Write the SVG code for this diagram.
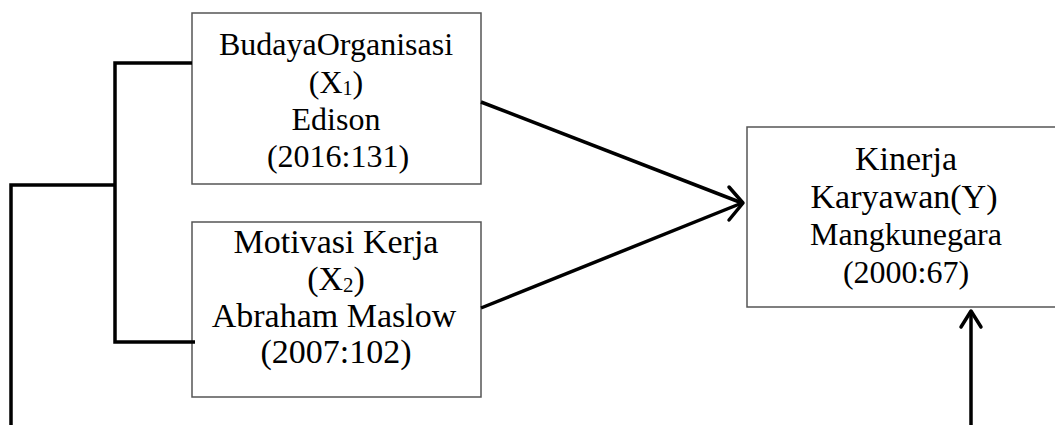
<svg xmlns="http://www.w3.org/2000/svg" width="1055" height="425" viewBox="0 0 1055 425">
<style>
.box{fill:#fff;stroke:#555;stroke-width:1.5}
.t{font-family:"Liberation Serif","Times New Roman",serif;fill:#000;text-anchor:middle}
.s32{font-size:32px}
.s34{font-size:34px}
.ln{fill:none;stroke:#000;stroke-width:3.5;stroke-linecap:butt;stroke-linejoin:miter}
.ah{fill:none;stroke:#000;stroke-width:3.5;stroke-linecap:round;stroke-linejoin:round}
</style>
<rect width="1055" height="425" fill="#fff"/>
<g id="node-x1">
<rect class="box" x="192" y="13" width="289" height="171"/>
<text class="t s32" x="336" y="55">BudayaOrganisasi</text>
<text class="t s32" x="336" y="93">(X<tspan font-size="20" dy="2">1</tspan><tspan dy="-2">)</tspan></text>
<text class="t s32" x="336" y="130">Edison</text>
<text class="t s32" x="338" y="167">(2016:131)</text>
</g>
<g id="node-x2">
<rect class="box" x="192" y="222" width="289" height="175"/>
<text class="t s34" x="336" y="253">Motivasi Kerja</text>
<text class="t s34" x="336" y="290">(X<tspan font-size="21" dy="2">2</tspan><tspan dy="-2">)</tspan></text>
<text class="t s34" x="334" y="327">Abraham Maslow</text>
<text class="t s34" x="336" y="363">(2007:102)</text>
</g>
<g id="node-y">
<rect class="box" x="747" y="127" width="320" height="180"/>
<text class="t s34" x="906" y="170">Kinerja</text>
<text class="t s34" x="904" y="208">Karyawan(Y)</text>
<text class="t s32" x="906" y="245">Mangkunegara</text>
<text class="t s32" x="906" y="283">(2000:67)</text>
</g>
<g id="connectors">
<polyline class="ln" points="192,63 115,63 115,342 195,342"/>
<polyline class="ln" points="11,425 11,185 115,185"/>
<line class="ln" x1="481" y1="102" x2="742" y2="203"/>
<line class="ln" x1="481" y1="308" x2="742" y2="203"/>
<polyline class="ah" points="729,187 743,203 729,220"/>
<line class="ln" x1="971" y1="425" x2="971" y2="312"/>
<polyline class="ah" points="961,327 971,311 981,327"/>
</g>
</svg>
